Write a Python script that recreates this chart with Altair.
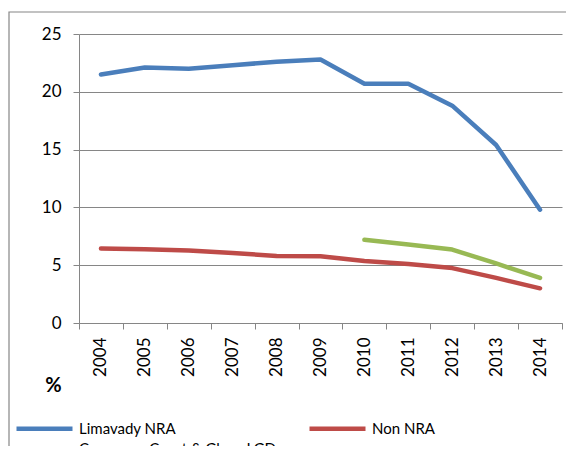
import altair as alt
import pandas as pd

years = ["2004", "2005", "2006", "2007", "2008", "2009", "2010", "2011", "2012", "2013", "2014"]
limavady = [21.5, 22.1, 22.0, 22.3, 22.6, 22.8, 20.7, 20.7, 18.8, 15.4, 9.8]
non_nra = [6.45, 6.37, 6.28, 6.05, 5.8, 5.77, 5.36, 5.1, 4.75, 3.9, 3.0]
causeway = [None, None, None, None, None, None, 7.2, 6.8, 6.35, 5.15, 3.9]

series_names = ["Limavady NRA", "Non NRA", "Causeway Coast & Glens LGD"]
series_colors = ["#4A7EBB", "#BE4B48", "#98B954"]

rows = []
for name, vals in zip(series_names, [limavady, non_nra, causeway]):
    for y, v in zip(years, vals):
        if v is not None:
            rows.append({"year": y, "value": v, "series": name})
df = pd.DataFrame(rows)

FONT = "Lato"

lines = alt.Chart(df).mark_line(strokeWidth=4.5, strokeCap="round", strokeJoin="round").encode(
    x=alt.X("year:N", sort=years, bandPosition=0.5,
            scale=alt.Scale(type="band", paddingInner=0, paddingOuter=0),
            axis=alt.Axis(title=None, labelAngle=270, tickBand="extent", grid=False,
                          domainColor="#868686", tickColor="#868686", tickSize=6,
                          labelFont=FONT, labelFontSize=17, labelColor="#000",
                          labelPadding=8)),
    y=alt.Y("value:Q", scale=alt.Scale(domain=[0, 25]),
            axis=alt.Axis(values=[0, 5, 10, 15, 20, 25], title="%", titleAngle=0,
                          titleX=-26, titleY=351, titleAlign="center", titleBaseline="middle",
                          titleFont=FONT, titleFontSize=20, titleFontWeight="bold", titleColor="#000",
                          domainColor="#868686", tickColor="#868686", tickSize=6,
                          gridColor="#868686", gridWidth=1,
                          labelFont=FONT, labelFontSize=17, labelColor="#000", labelPadding=12)),
    color=alt.Color("series:N", scale=alt.Scale(domain=series_names, range=series_colors),
                    legend=alt.Legend(title=None, orient="none", legendX=-45, legendY=384,
                                      direction="horizontal",
                                      columns=2, columnPadding=23, rowPadding=0,
                                      symbolType="M-3.5,0L3.5,0", symbolSize=256,
                                      symbolStrokeWidth=4.5, symbolFillColor="transparent",
                                      labelFont=FONT, labelFontSize=15, labelColor="#000",
                                      labelOffset=24, labelLimit=400)),
)

border = alt.Chart(alt.Data(values=[{}])).mark_rect(fill=None, stroke="#868686", strokeWidth=1.2).encode(
    x=alt.value(-70), x2=alt.value(510), y=alt.value(-22), y2=alt.value(430)
)

chart = alt.layer(border, lines).properties(
    width=483, height=289,
    autosize=alt.AutoSizeParams(type="none"),
    padding={"left": 71, "top": 26, "right": 4, "bottom": 123},
).configure_view(stroke=None)

chart.save("out.html", embed_options={"renderer": "svg", "actions": False})
